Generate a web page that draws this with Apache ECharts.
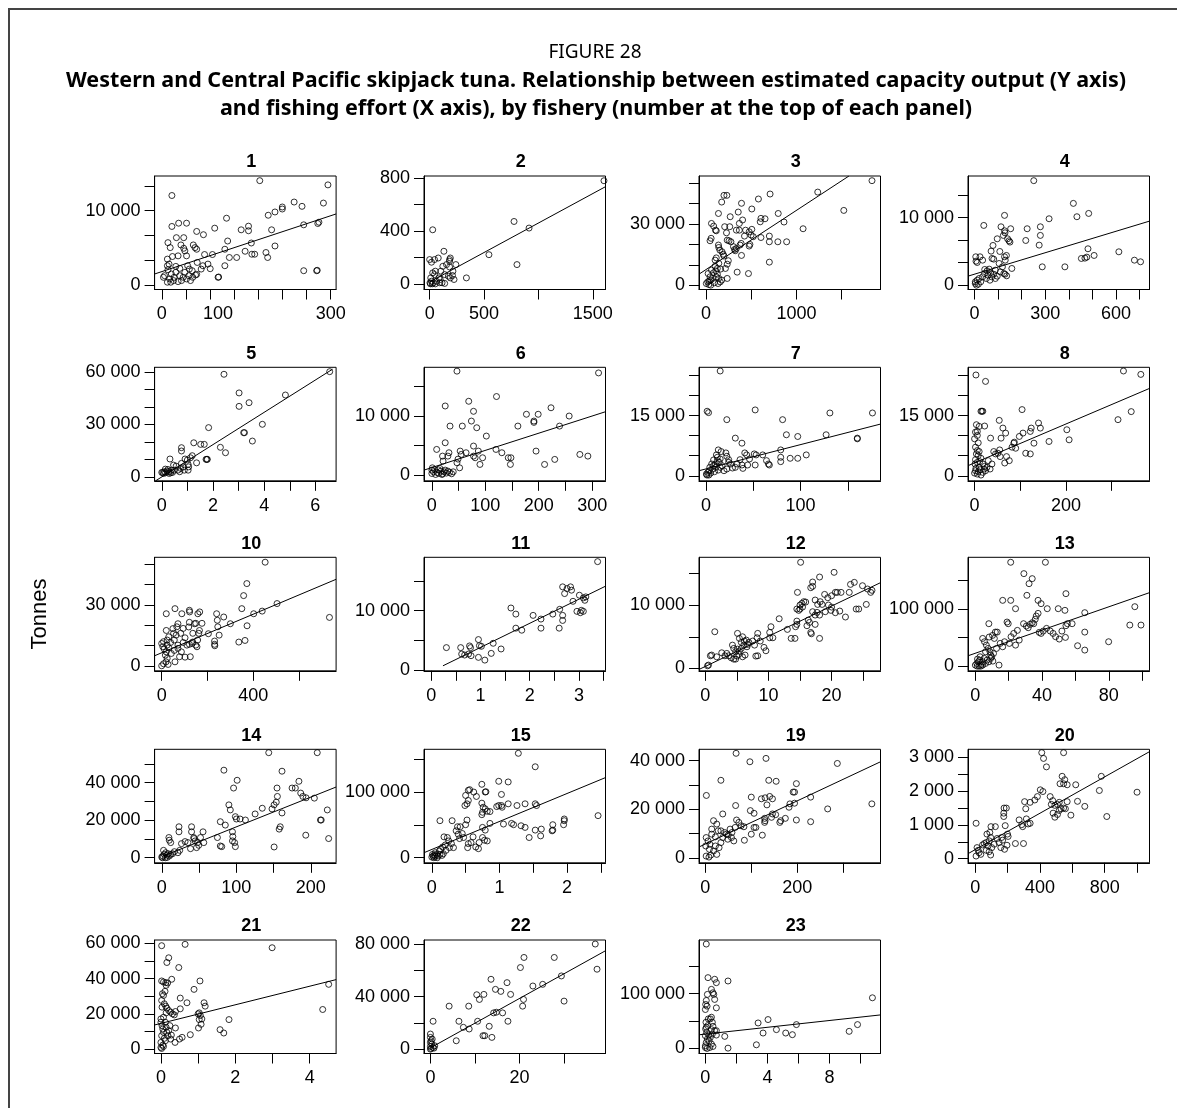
<!DOCTYPE html>
<html><head><meta charset="utf-8">
<script src="https://cdn.jsdelivr.net/npm/echarts@6/dist/echarts.min.js"></script>
<style>html,body{margin:0;padding:0;background:#fff}#c{width:1177px;height:1108px}</style>
</head><body><div id="c"></div>
<script>
// ---------------- DATA ----------------
const figureLabel = 'FIGURE 28';
const titleLines = ['Western and Central Pacific skipjack tuna. Relationship between estimated capacity output (Y axis)',
  'and fishing effort (X axis), by fishery (number at the top of each panel)'];
const yAxisName = 'Tonnes';
const panelIds = ['1','2','3','4','5','6','7','8','10','11','12','13','14','15','19','20','21','22','23'];

const pts1 = [[174,14040],[18,12040],[295,13470],[287,11020],[235,11160],[249,10580],[214,10490],[214,10220],[201,9820],[189,9380],[115,8980],[252,8090],[279,8440],[277,8270],[195,7420],[154,7910],[154,7290],[141,7420],[94,7640],[62,7200],[74,6760],[18,7870],[30,8310],[44,8310],[26,6360],[39,6360],[34,5380],[11,5690],[15,5020],[56,5380],[59,5020],[62,4800],[39,4930],[41,4580],[117,5910],[159,5640],[165,4130],[160,4130],[148,4530],[201,5240],[185,4360],[188,3690],[120,3690],[133,3690],[112,4800],[112,2580],[90,4090],[76,4090],[82,2800],[86,2180],[100,1020],[101,1060],[44,3910],[29,3910],[19,3820],[63,3020],[62,1420],[60,1330],[252,1910],[275,1910],[276,1960],[5,1240],[10,2580],[11,2040],[14,800],[16,360],[17,1470],[21,580],[22,1020],[25,1690],[29,440],[32,1240],[35,580],[38,1020],[41,1690],[44,800],[48,1240],[51,580],[54,1910],[55,1020],[10,3470],[13,2800],[25,2490],[32,2220],[46,2580],[49,2130],[70,2130],[73,2580],[10,360],[3,1020]];
const pts2 = [[1603,782],[776,473],[914,423],[545,221],[803,146],[338,45],[28,410],[0,184],[17,164],[45,184],[79,196],[131,247],[183,184],[190,196],[183,171],[155,146],[121,133],[103,96],[138,70],[172,58],[214,96],[241,146],[183,128],[86,45],[62,20],[34,8],[17,20],[10,45],[45,70],[52,96],[28,83],[3,8],[7,0],[24,0],[52,0],[93,8],[138,3],[190,45],[210,63],[224,33],[97,33],[114,8]];
const pts3 = [[1836,51300],[1236,45700],[1524,36700],[709,44750],[580,42300],[199,44100],[231,44100],[174,40800],[393,40200],[507,37400],[138,35200],[357,35900],[268,33600],[608,32800],[653,32600],[799,35200],[863,31000],[600,31100],[61,30300],[85,29000],[105,27000],[114,26700],[207,28700],[227,25700],[263,28700],[369,30300],[405,32000],[336,27000],[369,27000],[438,27000],[478,26200],[507,27400],[426,24100],[499,24600],[523,23800],[608,23400],[701,24100],[701,21300],[795,21300],[892,21300],[1074,27700],[701,11300],[57,23000],[45,21800],[138,19700],[142,18500],[154,17200],[178,16400],[190,15200],[235,22100],[255,21800],[276,21300],[304,18900],[316,17500],[336,18000],[324,16900],[377,19700],[389,20500],[393,14600],[478,19200],[486,20000],[142,10700],[114,13400],[101,12300],[199,14300],[235,10300],[247,12000],[345,6400],[470,5700],[162,7900],[215,8200],[235,3300],[4,800],[20,1600],[36,2100],[53,2500],[73,3300],[93,1150],[114,4100],[126,5400],[142,3300],[45,4100],[24,5700],[61,7400],[85,6100],[109,7000],[134,800],[158,1600],[174,2500],[32,300],[53,0],[101,9300],[126,8200]];
const pts4 = [[251,15500],[419,12130],[484,10640],[434,10150],[316,9850],[127,10350],[39,8860],[223,8370],[279,8660],[279,7380],[274,5940],[112,8660],[127,8070],[129,7770],[122,7380],[153,8370],[140,6880],[146,6580],[150,6390],[96,6880],[78,5890],[217,6630],[107,5000],[70,5050],[74,3960],[81,3860],[127,4210],[130,3710],[135,4410],[104,3220],[5,4210],[11,3370],[23,4210],[34,3710],[6,3560],[158,2480],[129,1630],[136,1390],[124,1730],[287,2720],[383,2720],[481,5400],[507,4410],[453,3960],[468,4010],[476,4160],[612,4950],[678,3710],[704,3470],[3,250],[11,740],[19,990],[26,500],[34,1240],[42,1730],[50,990],[57,1490],[65,740],[73,1240],[81,1630],[88,990],[96,1340],[109,1980],[43,2330],[53,2130],[62,2380],[68,1830],[3,500],[8,0],[16,150],[118,2720],[88,2230]];
const pts5 = [[6.56,60300],[2.43,58800],[4.83,46900],[3.02,48100],[3.02,40400],[3.41,42500],[1.83,28200],[3.93,30100],[3.2,25300],[3.23,25300],[3.54,20500],[2.29,16900],[2.49,13800],[1.25,19500],[1.52,18600],[1.66,18600],[0.77,16700],[0.77,14800],[1.73,10000],[1.76,10000],[1.78,10000],[1.36,8000],[1.19,12100],[1.0,9600],[0.91,10200],[1.12,10900],[0.32,10200],[1.03,7100],[1.05,5700],[1.03,3800],[0.77,7700],[0.84,5700],[0.74,4800],[0.7,2900],[0.88,3800],[0.56,6100],[0.63,3800],[0.46,6700],[0.04,2500],[0.1,2900],[0.15,2300],[0.21,3300],[0.28,2900],[0.35,2300],[0.38,3800],[0.24,4200],[0.14,4400],[0.29,1900],[0.42,2500],[0.49,3800],[0.07,1900],[0,2500]];
const pts6 = [[47,17600],[312,17300],[121,13300],[25,11700],[69,12500],[78,10800],[223,11400],[177,10300],[199,10300],[191,9150],[191,8930],[257,10000],[239,8300],[161,8300],[34,8300],[57,8300],[74,9150],[84,8020],[102,6610],[25,5480],[9,4350],[78,4920],[120,4350],[131,3790],[87,4070],[78,3220],[81,2940],[64,3790],[53,4070],[55,3500],[32,3790],[30,3220],[20,3220],[21,2370],[47,2090],[49,2710],[95,2940],[90,1810],[52,1240],[143,2940],[147,1810],[148,2940],[195,4070],[211,1810],[230,2660],[277,3500],[292,3220],[0,280],[3,560],[7,110],[10,450],[13,280],[17,680],[20,230],[23,560],[27,340],[30,680],[33,450],[37,230],[40,560],[0,850],[5,960],[12,900],[19,110],[25,850],[15,1130],[1,1240]];
const pts7 = [[15,26150],[1.2,16100],[2.7,15760],[22,14000],[52,16430],[81,14000],[131,15670],[176,15670],[127,10230],[85,10230],[97,9800],[160,9390],[160,9220],[31,9390],[38,8130],[106,5200],[89,4360],[97,4360],[79,6450],[79,4610],[79,3520],[60,5200],[64,3770],[67,2680],[66,2930],[51,5450],[53,5200],[43,5200],[41,5700],[46,4190],[44,2680],[52,2680],[13,6450],[16,6040],[8,3940],[21,5700],[22,4860],[24,3350],[24,4020],[26,2930],[31,2100],[33,2930],[36,4020],[38,2680],[39,1840],[11,5200],[12,4610],[10,2930],[0.4,420],[2,840],[3.5,1260],[5,670],[7,1680],[9,1010],[10.5,2100],[13,1420],[15,2100],[17,2510],[19,1260],[22,1680],[28,1930],[4,2100],[6,2930],[1,170],[3,170],[8,2510],[14,3350],[15,4190],[12,3770]];
const pts8 = [[3,25150],[24,23550],[326,26150],[364,25300],[314,14000],[343,16010],[104,16510],[14,16100],[16,16100],[18,16100],[4,12740],[10,12320],[6,11060],[22,12410],[54,13830],[62,11900],[68,10650],[58,9390],[35,9390],[98,9810],[106,10650],[122,11060],[124,11900],[140,13160],[144,11900],[130,8130],[112,5620],[122,5450],[86,8130],[87,8380],[82,7130],[90,6870],[163,8550],[202,11480],[207,8970],[55,6450],[56,4780],[51,5620],[42,6040],[46,5450],[70,4780],[76,3770],[66,3180],[2,10900],[6,10060],[0,9220],[8,8210],[2,7130],[10,6040],[6,6290],[4,5450],[8,5030],[14,4360],[11,3520],[18,2930],[22,2350],[30,3770],[0,670],[2,1260],[3,1840],[6,420],[8,1010],[10,2100],[12,1510],[14,170],[18,840],[21,1680],[24,1260],[27,2100],[34,1680],[38,2930],[1,2930],[2,4020],[6,3350]];
const pts10 = [[452,51000],[372,40500],[358,34600],[504,30700],[439,27000],[402,25700],[350,28200],[733,23900],[373,19800],[364,12600],[337,11800],[300,20800],[271,24100],[240,25700],[243,22500],[245,19300],[251,15200],[231,12300],[231,10700],[232,10000],[204,15900],[20,25700],[58,28200],[88,25700],[121,27400],[122,26600],[158,25700],[166,26600],[20,17500],[49,18400],[66,19300],[71,20800],[94,18500],[118,19200],[121,21500],[143,20800],[149,21000],[165,17500],[162,16100],[176,21000],[136,16100],[157,12800],[135,11800],[149,10300],[31,14400],[52,16100],[63,15200],[83,16100],[102,13900],[24,12800],[39,11600],[55,12800],[71,10300],[94,11600],[110,10300],[121,10700],[133,11100],[154,9500],[5,9500],[11,8400],[20,7000],[31,9000],[42,6200],[55,7700],[71,8700],[86,7000],[102,4400],[125,4600],[78,4600],[58,2100],[0,160],[8,1150],[19,2100],[28,820],[24,3800],[16,5400],[0,11100],[8,12000],[24,10300]];
const pts11 = [[3.38,18250],[0.31,3790],[0.6,3790],[0.62,2710],[0.68,2540],[0.78,4070],[0.8,3790],[0.76,2710],[0.81,2430],[0.96,5140],[0.98,4120],[1.02,4010],[0.96,2150],[1.09,1690],[1.22,2820],[1.26,4520],[1.42,3560],[1.62,10450],[1.72,9430],[1.72,7060],[1.84,6720],[2.07,9210],[2.23,8590],[2.23,7060],[2.47,9430],[2.61,10230],[2.67,9210],[2.67,8360],[2.6,7060],[2.67,14010],[2.71,12880],[2.76,13730],[2.83,14010],[2.85,13450],[2.88,11580],[3.01,12600],[3.09,12150],[3.14,12320],[3.12,11750],[2.96,9890],[3.03,9660],[3.09,9890],[3.05,10060]];
const pts12 = [[15.1,16740],[20.4,15160],[18.1,14420],[17.0,13630],[17.0,12950],[16.7,12740],[14.6,12000],[15.0,10000],[15.3,10260],[15.6,10530],[15.9,10470],[14.5,9370],[14.8,9160],[15.0,9370],[15.4,9680],[17.4,10790],[17.8,10100],[18.2,10530],[18.5,10100],[18.9,11680],[19.4,11160],[20.0,11470],[20.6,12000],[20.9,12000],[21.5,12000],[19.5,10000],[20,9680],[19.9,9160],[20.6,8790],[21.3,9050],[22.2,8110],[22.8,12000],[23.6,13580],[23.0,13260],[24.9,13050],[25.5,10100],[23.9,9370],[24.3,9370],[26.2,12000],[26.4,12320],[25.7,12530],[17.0,8950],[17.4,8420],[17.7,8840],[18.1,8420],[19,8950],[16.5,7260],[16.8,5470],[17.4,6950],[18.1,4740],[16.7,5680],[16.1,6740],[16.3,7630],[14.5,6950],[14.5,7470],[14.3,6580],[13.0,6160],[13.6,4740],[14.2,4740],[11.7,7840],[10.2,4840],[10.7,4840],[9.6,2790],[9.3,3320],[10.2,5680],[10.4,6580],[8.3,5530],[8.2,4840],[8.7,4320],[7.5,4320],[7.8,3680],[6.9,4110],[6.6,3420],[8.0,1950],[8.3,2000],[5.1,5530],[5.4,4740],[5.9,5000],[6.2,4320],[6.5,4470],[5.7,4110],[6.1,3680],[6.7,3790],[4.3,3680],[4.5,3160],[4.8,2630],[5.1,3050],[5.4,2740],[5.7,3160],[5.3,2210],[5.9,1840],[6.3,2110],[5.0,1950],[4.5,1470],[4.1,1680],[4.8,1470],[1.5,5790],[1.0,2110],[0.8,2000],[1.8,1840],[2.6,2470],[3.1,2000],[3.7,2000],[3.4,2370],[0.35,420],[0.5,530]];
const pts13 = [[21.2,181900],[42,181900],[29.1,162000],[32.2,144400],[34.1,153200],[30.9,124000],[16.4,115200],[21.2,115200],[24.1,100600],[37.6,115200],[39.4,109400],[43.1,100600],[49.7,100600],[54.3,126900],[53.7,97700],[8.1,74300],[19,77200],[19.7,74300],[12,59600],[10.3,53800],[13.1,59600],[28.9,74300],[30.6,70200],[31.7,67300],[32.8,73100],[34.1,76000],[35,74300],[35.9,81900],[36.5,87700],[37.6,92400],[25.2,62600],[23,57300],[21.4,51500],[26.3,45600],[24.1,36800],[20.4,39800],[17.5,42700],[38.3,59100],[39.4,57300],[40.7,61400],[42.7,66100],[44.9,61400],[46.6,57300],[48.1,51500],[50.3,47400],[51.9,61400],[54.3,70800],[55.2,74300],[58,74300],[54,50300],[61.3,35700],[65.6,28100],[65.6,59600],[65.6,93600],[79.9,42700],[92.6,71900],[95.6,104100],[99.3,71900],[4.4,48500],[5.5,42700],[6.6,36800],[7.7,31000],[8.8,25100],[9.2,19300],[10.9,22200],[12.7,31000],[14.2,1800],[9.8,16400],[6.1,25100],[8.3,50900],[11.4,48500],[14.9,39800],[16.4,33900],[0,1800],[0.9,4700],[1.8,7600],[2.6,10500],[3.5,2900],[4.4,7600],[5.3,13500],[1.1,0],[2.2,0],[3.3,0],[4.4,1800],[6.1,4700],[7,10500],[8.1,7600],[9.2,13500],[10.5,8800],[1.3,12300],[2.8,16400]];
const pts14 = [[143.6,55960],[208.7,55960],[83.4,46640],[161.4,46100],[101.2,41260],[96.4,37130],[98.8,21880],[100.2,20630],[154.7,37130],[155.2,32650],[153.7,29600],[90.1,28160],[92,25470],[78.6,19190],[85.3,17400],[74.7,10760],[78.6,6280],[80.5,5920],[94.9,13810],[95.4,11300],[94.9,8970],[97.8,8070],[98.8,5920],[105.1,20630],[112.3,20090],[125.3,23320],[134.9,26370],[148,26010],[150.8,28160],[150.8,5740],[157.6,15250],[159,16500],[161.4,23860],[174.9,37130],[179.3,37130],[184.1,40720],[186.5,34440],[189.4,32650],[193.7,31930],[204.8,31750],[193.3,12020],[213,20090],[214,20090],[222.2,25470],[224,10220],[9.6,10760],[10.1,9330],[12,8070],[23.1,16500],[23.1,13810],[40,16500],[40,13810],[55.4,13810],[52,10760],[56.4,8070],[48.2,8070],[43.4,10220],[49.6,6640],[46.7,5380],[26.5,7530],[31.3,8610],[35.2,8070],[38.6,4840],[42.9,10760],[44.8,8970],[21.7,2690],[24.1,3950],[16.9,3230],[14.5,2150],[0,360],[1.4,900],[3.4,1790],[5.3,2690],[7.2,1430],[8.7,2150],[2.4,3950],[1,0],[4.8,0],[7.2,180],[10.1,900],[12,1790]];
const pts15 = [[1.28,159000],[1.53,138500],[2.46,64100],[0.5,94900],[0.54,102600],[0.56,103600],[0.54,87200],[0.52,82100],[0.49,79500],[0.62,100000],[0.66,93300],[0.79,100000],[0.8,100500],[0.74,111800],[1.13,115400],[0.99,116400],[1.03,96400],[0.12,56400],[0.3,56400],[0.38,47200],[0.42,47200],[0.52,57400],[0.5,50300],[0.74,83100],[0.76,76900],[0.79,74400],[0.75,69200],[0.82,70800],[0.86,70300],[0.74,65600],[0.86,52300],[0.96,77900],[0.99,79500],[1.03,79500],[1.04,76900],[1.13,82100],[1.26,79500],[1.38,82100],[1.53,82100],[1.55,79500],[1.06,51300],[1.18,52300],[1.21,50300],[1.32,48700],[1.38,46200],[1.44,30800],[1.53,42100],[1.62,43600],[1.61,33300],[1.79,50300],[1.79,42100],[1.78,41000],[1.95,50300],[1.96,56400],[1.96,59000],[0.75,46200],[0.79,42100],[0.75,30800],[0.78,26700],[0.82,25600],[0.7,23100],[0.65,16400],[0.69,13800],[0.36,41000],[0.39,35900],[0.45,36900],[0.47,30800],[0.41,29200],[0.54,21500],[0.61,31800],[0.58,23100],[0.53,15400],[0.18,31800],[0.23,30800],[0.25,25600],[0.29,21500],[0.2,19500],[0.16,16400],[0.13,12800],[0.11,10300],[0.21,11300],[0.26,15400],[0.32,15400],[0,1000],[0.02,2600],[0.04,4100],[0.05,2100],[0.07,5100],[0.03,0],[0.08,0],[0.09,2600],[0.12,5100],[0.15,3600],[0.17,6200],[0.05,7700],[0.01,5100]];
const pts19 = [[67,43060],[97,39580],[132,40970],[287,38890],[2.4,25690],[34,31940],[138,31940],[154,31530],[198,30560],[191,27080],[194,27080],[229,25000],[100,25000],[66,21530],[38,18060],[122,24310],[130,24720],[140,25280],[146,24310],[134,21810],[184,22220],[194,22500],[182,20830],[266,20140],[362,22220],[229,14860],[198,15560],[174,16250],[164,15280],[162,14580],[146,18060],[144,16670],[153,17780],[129,16250],[129,14580],[130,15280],[124,9310],[98,19440],[106,18330],[100,9720],[106,12500],[110,12500],[84,12780],[68,15560],[73,14580],[78,13190],[65,12500],[54,11810],[58,10420],[62,6940],[85,7220],[18,15280],[25,13890],[14,11810],[28,11110],[34,11110],[42,10420],[46,9720],[50,9440],[57,8330],[38,8330],[49,7640],[2,8330],[6,6940],[10,5560],[1,4860],[14,9720],[22,8610],[9,3470],[18,2780],[25,1390],[30,4170],[2,690],[8,280],[12,1110],[22,4860],[34,6250]];
const pts20 = [[411,3140],[422,2970],[440,2720],[546,3140],[537,2440],[553,2340],[568,2190],[546,2220],[524,2220],[779,2440],[767,2020],[621,2190],[677,1550],[1000,1970],[813,1250],[402,2040],[418,1990],[384,1840],[368,1740],[339,1670],[463,1840],[479,1720],[470,1610],[492,1580],[508,1610],[519,1670],[568,1690],[530,1480],[519,1430],[546,1500],[508,1310],[492,1230],[481,1350],[557,1480],[591,1290],[632,1700],[305,1690],[312,1480],[316,1180],[327,1030],[339,1050],[271,1150],[287,1010],[293,950],[248,450],[298,450],[196,400],[181,280],[178,1500],[192,1500],[176,1350],[176,1250],[185,980],[199,730],[203,660],[163,630],[135,600],[97,950],[90,780],[124,950],[72,730],[95,630],[86,530],[68,480],[56,450],[79,380],[102,330],[117,430],[147,480],[158,330],[169,550],[5,1050],[11,330],[18,250],[23,180],[34,130],[5,80],[45,410],[68,250],[95,110],[86,210]];
const pts21 = [[0.02,58670],[0.65,59430],[0.16,49140],[0.21,51810],[2.99,57520],[0.48,46290],[0.89,33900],[0.29,39620],[1.05,38670],[1.16,26290],[1.19,24380],[1.83,16760],[0.02,38670],[0.07,38100],[0.14,36190],[0.13,37710],[0.18,37520],[0.11,32760],[0.04,31430],[0.07,30480],[0.02,27620],[0.09,25710],[0.03,23810],[0.13,24380],[0.16,23240],[0.21,21900],[0.26,20950],[0.31,20000],[0.36,19430],[0.39,21330],[0.52,28950],[0.52,22860],[0.7,26290],[1.0,20000],[1.03,20570],[1.06,19050],[1.03,16760],[1.1,17140],[1.01,12000],[1.08,14100],[4.51,36760],[4.35,22480],[1.59,11050],[1.69,9140],[0.79,8190],[0.57,6670],[0.39,12000],[0.38,3810],[0.5,5710],[0,17140],[0,15240],[0.03,13330],[0.05,11430],[0.07,9520],[0.02,7620],[0.09,6100],[0,3810],[0.05,2290],[0,950],[0.12,15240],[0.14,12380],[0.16,9520],[0.19,7620],[0.21,10480],[0.24,13330],[0.07,18100],[0.14,20570],[0.02,380],[0.07,1520],[0.12,4760],[0.26,5710],[0.28,8000]];
const pts22 = [[37.0,80050],[37.4,60870],[27.8,69820],[21.0,69820],[20.2,62150],[29.4,55750],[25.2,49360],[23.0,48080],[20.7,32740],[20.9,37850],[30.0,36570],[13.6,53200],[17.2,50640],[14.6,45520],[15.8,43990],[18.0,41690],[10.4,41430],[11.0,37850],[12.0,41690],[8.6,32740],[14.2,27620],[16.2,27620],[17.4,21230],[14.8,28130],[13.2,17390],[13.8,8950],[12.2,10230],[11.8,10230],[10.6,21230],[6.4,21230],[7.4,16620],[8.7,15350],[4.2,32740],[5.8,6390],[0.6,21230],[0,11500],[0,8950],[0.16,6390],[0.3,3840],[0,2050],[0.16,510],[0.56,1280],[0.96,2560],[0,0],[0.4,7670],[0,5120],[0.8,770]];
const pts23 = [[0.06,190800],[0.17,129400],[0.6,126400],[0.71,120200],[1.46,123300],[0.39,108000],[0.49,101800],[0.54,98800],[0.13,98800],[0.6,89600],[0.71,74200],[0.06,87700],[0.02,80400],[0,71200],[0.11,77300],[0.39,57100],[0.32,54000],[0.45,47900],[0.49,40500],[0.6,32500],[0.71,24500],[10.77,92600],[3.4,46600],[4.04,52800],[3.72,28200],[4.58,34400],[5.18,28200],[5.61,25200],[5.87,43600],[9.27,31300],[9.81,43600],[1.25,22100],[1.46,600],[3.29,6700],[0.49,3700],[0.71,32500],[0.39,34400],[0,4900],[0.06,11000],[0.13,17200],[0,23300],[0.09,29400],[0.02,35600],[0.15,41700],[0.04,47900],[0.19,54000],[0.28,1800],[0.39,8000],[0.24,14100],[0.32,20200],[0.45,26400],[0.11,0],[0,1800],[0.22,24500],[0.06,38700]];

// fitted regression lines (end points, in data units)
const fit1 = [[-12.7,1467],[309.5,9556]];
const fit2 = [[0,14],[1617,737]];
const fit3 = [[-77,5400],[1581,53600]];
const fit4 = [[-28,1340],[742,9500]];
const fit5 = [[-0.24,-2300],[6.67,61700]];
const fit6 = [[-14.7,850],[325,10730]];
const fit7 = [[-7.4,1260],[184.5,12900]];
const fit8 = [[-14.4,2510],[383,21800]];
const fit10 = [[-31,5080],[762,42600]];
const fit11 = [[0.24,730],[3.54,14120]];
const fit12 = [[-1,-160],[27.75,13530]];
const fit13 = [[-4.4,18100],[104.4,128700]];
const fit14 = [[2,900],[234,37670]];
const fit15 = [[-0.116,7690],[2.57,122050]];
const fit19 = [[-13.6,4440],[380.8,39580]];
const fit20 = [[-45,150],[1077,3170]];
const fit21 = [[-0.17,13710],[4.71,39430]];
const fit22 = [[-0.24,510],[39.3,74940]];
const fit23 = [[-0.41,25000],[11.29,61300]];

// tick marks and tick labels per panel (same order as panelIds)
const xTickValues = [
  [0,42.857,85.714,128.571,171.429,214.286,257.143,300],[0,500,1000,1500],[0,500,1000,1500],[0,100,200,300,400,500,600,700],
  [0,1,2,3,4,5,6],[0,50,100,150,200,250,300],[0,50,100,150],[0,100,200,300],
  [0,200,400,600],[0,0.5,1,1.5,2,2.5,3,3.5],[0,5,10,15,20,25],[0,20,40,60,80,100],
  [0,50,100,150,200],[0,0.5,1,1.5,2,2.5],[0,100,200,300],[0,200,400,600,800,1000],
  [0,1,2,3,4],[0,10,20,30],[0,2,4,6,8,10]];
const xLabelValues = [
  [0,100,300],[0,500,1500],[0,1000],[0,300,600],
  [0,2,4,6],[0,100,200,300],[0,100],[0,200],
  [0,400],[0,1,2,3],[0,10,20],[0,40,80],
  [0,100,200],[0,1,2],[0,200],[0,400,800],
  [0,2,4],[0,20],[0,4,8]];
const yTickValues = [
  [0,3333.33,6666.67,10000,13333.33],[0,200,400,600,800],[0,10000,20000,30000,40000,50000],[0,3333.33,6666.67,10000,13333.33],
  [0,10000,20000,30000,40000,50000,60000],[0,5000,10000,15000],[0,5000,10000,15000,20000,25000],[0,5000,10000,15000,20000,25000],
  [0,10000,20000,30000,40000,50000],[0,5000,10000,15000],[0,5000,10000,15000],[0,50000,100000,150000],
  [0,10000,20000,30000,40000,50000],[0,50000,100000,150000],[0,10000,20000,30000,40000],[0,500,1000,1500,2000,2500,3000],
  [0,10000,20000,30000,40000,50000,60000],[0,20000,40000,60000,80000],[0,50000,100000,150000]];
const yLabelValues = [
  [0,10000],[0,400,800],[0,30000],[0,10000],
  [0,30000,60000],[0,10000],[0,15000],[0,15000],
  [0,30000],[0,10000],[0,10000],[0,100000],
  [0,20000,40000],[0,100000],[0,20000,40000],[0,1000,2000,3000],
  [0,20000,40000,60000],[0,40000,80000],[0,100000]];

const panelPoints = [pts1,pts2,pts3,pts4,pts5,pts6,pts7,pts8,pts10,pts11,pts12,pts13,pts14,pts15,pts19,pts20,pts21,pts22,pts23];
const panelFits = [fit1,fit2,fit3,fit4,fit5,fit6,fit7,fit8,fit10,fit11,fit12,fit13,fit14,fit15,fit19,fit20,fit21,fit22,fit23];

// ---------------- LAYOUT / SCALES ----------------
const xRange = [[-12.7,309.5],[-52,1617],[-77,1930],[-28,742],[-0.28,6.81],[-14.7,325],[-7.4,184.5],[-14.4,383],
  [-31,762],[-0.145,3.54],[-1.0,27.75],[-4.4,104.4],[-9.6,234],[-0.116,2.57],[-13.6,380.8],[-45,1077],
  [-0.17,4.71],[-1.44,39.3],[-0.41,11.29]];
const yRange = [[-622,14667],[-43,818],[-2130,53600],[-640,16190],[-2300,62800],[-960,18250],[-1260,27070],[-1260,27070],
  [-2300,53400],[-110,18980],[-370,17530],[-8190,190600],[-2690,57760],[-7690,165100],[-2080,44720],[-120,3240],
  [-2480,61900],[-3320,83120],[-9200,198200]];
const colLeft = [154.6, 424, 699, 968];
const rowTop = [176, 367.3, 557.3, 749.3, 940];
const W = 181.5, H = 113.5;
const FONT = '"Liberation Sans", Arial, sans-serif';

function fmtX(v) {
  return String(Math.round(v * 1000) / 1000);
}
function fmtY(v) {
  const r = Math.round(v * 1000) / 1000;
  if (Math.abs(r) >= 1000) return String(Math.round(r)).replace(/\B(?=(\d{3})+(?!\d))/g, ' ');
  return String(r);
}

const grids = [], xAxes = [], yAxes = [], series = [], graphics = [];
panelIds.forEach((id, i) => {
  const row = Math.floor(i / 4), col = i % 4;
  const left = colLeft[col], top = rowTop[row];
  grids.push({ left, top, width: W, height: H, show: true, borderColor: '#000', borderWidth: 1, backgroundColor: 'transparent' });
  const axisCommon = {
    axisLine: { show: true, onZero: false, lineStyle: { color: '#000', width: 1 } },
    splitLine: { show: false },
    axisTick: { show: true, length: 10, lineStyle: { color: '#000', width: 1 } },
  };
  xAxes.push(Object.assign({}, axisCommon, {
    type: 'value', gridIndex: i, min: xRange[i][0], max: xRange[i][1],
    axisTick: Object.assign({}, axisCommon.axisTick, { customValues: xTickValues[i] }),
    axisLabel: { customValues: xLabelValues[i], formatter: fmtX, color: '#000', fontSize: 18, fontFamily: FONT, margin: 16 }
  }));
  yAxes.push(Object.assign({}, axisCommon, {
    type: 'value', gridIndex: i, min: yRange[i][0], max: yRange[i][1],
    axisTick: Object.assign({}, axisCommon.axisTick, { customValues: yTickValues[i] }),
    axisLabel: { customValues: yLabelValues[i], formatter: fmtY, color: '#000', fontSize: 18, fontFamily: FONT, margin: 14 }
  }));
  series.push({
    type: 'scatter', xAxisIndex: i, yAxisIndex: i, data: panelPoints[i],
    symbol: 'circle', symbolSize: 6, silent: true,
    itemStyle: { color: 'rgba(0,0,0,0)', borderColor: '#000', borderWidth: 1 }
  });
  series.push({
    type: 'line', xAxisIndex: i, yAxisIndex: i, data: panelFits[i], symbol: 'none', clip: true, silent: true,
    lineStyle: { color: '#000', width: 1 }, z: 3
  });
  graphics.push({ type: 'text', x: left + W / 2 + 6, y: top - 13.5,
    style: { text: id, font: 'bold 18px ' + FONT, fill: '#000', textAlign: 'center', textVerticalAlign: 'middle', verticalAlign: 'middle' } });
});

graphics.push({ type: 'text', x: 595, y: 53, style: { text: figureLabel, font: '19px "Noto Sans", sans-serif', fill: '#000', textAlign: 'center', textVerticalAlign: 'middle', verticalAlign: 'middle' } });
graphics.push({ type: 'text', x: 596, y: 81, style: { text: titleLines[0], font: 'bold 21.5px "Noto Sans", sans-serif', fill: '#000', textAlign: 'center', textVerticalAlign: 'middle', verticalAlign: 'middle' } });
graphics.push({ type: 'text', x: 596, y: 109, style: { text: titleLines[1], font: 'bold 21.5px "Noto Sans", sans-serif', fill: '#000', textAlign: 'center', textVerticalAlign: 'middle', verticalAlign: 'middle' } });
graphics.push({ type: 'text', x: 40, y: 614, rotation: Math.PI / 2,
  style: { text: yAxisName, font: '22px ' + FONT, fill: '#000', textAlign: 'center', textVerticalAlign: 'middle', verticalAlign: 'middle' } });
graphics.push({ type: 'line', shape: { x1: 8, y1: 9, x2: 1177, y2: 9 }, style: { stroke: '#444', lineWidth: 2 } });
graphics.push({ type: 'line', shape: { x1: 9, y1: 8, x2: 9, y2: 1108 }, style: { stroke: '#444', lineWidth: 2 } });

const chart = echarts.init(document.getElementById('c'), null, { renderer: 'canvas' });
chart.setOption({ animation: false, backgroundColor: '#fff', grid: grids, xAxis: xAxes, yAxis: yAxes, series, graphic: graphics });
</script></body></html>
